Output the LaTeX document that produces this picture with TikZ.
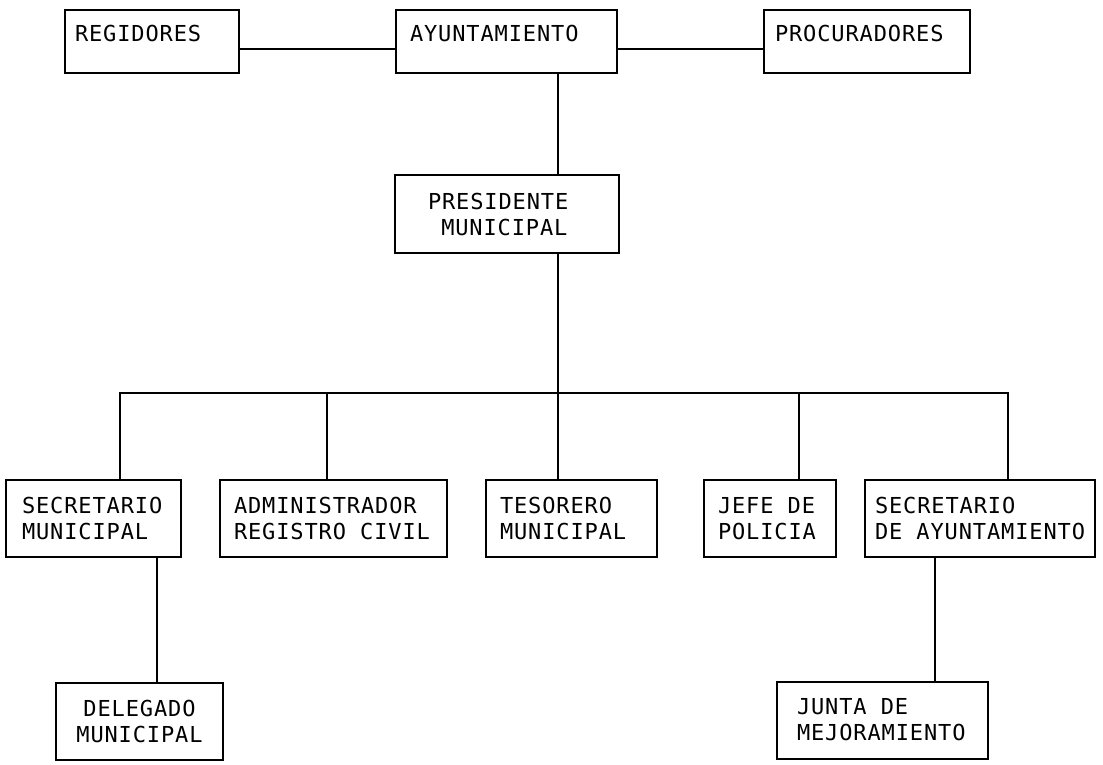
\documentclass[tikz,border=0pt]{standalone}
\usepackage{fontspec}
\usepackage{tikz}
\usetikzlibrary{positioning}
\newfontfamily\orgfont[LetterSpace=4]{DejaVu Sans Mono}
\newcommand\orgsp{\nobreak\hspace{0.64em}}
\tikzset{
  box/.style    ={rectangle, draw=black, line width=2pt, inner ysep=0pt,
                  align=left, font=\orgfont\fontsize{22}{26}\selectfont},
  headbox/.style={box, minimum height=63pt, text height=16pt, text depth=15pt},
  postbox/.style={box, minimum height=77pt},
  link/.style   ={draw=black, line width=2pt}
}
\begin{document}
\begin{tikzpicture}[x=1pt, y=-1pt]
\useasboundingbox (0,0) rectangle (1103,765);
\node[headbox, minimum width=174pt, text width=154pt, inner xsep=10pt] (reg) at (152,41.5) {REGIDORES};
\node[headbox, minimum width=221pt, text width=193pt, inner xsep=14pt] (ayu) at (506.5,41.5) {AYUNTAMIENTO};
\node[headbox, minimum width=206pt, text width=184pt, inner xsep=11pt] (pro) at (867,41.5) {PROCURADORES};
\node[box, minimum width=224pt, minimum height=78pt, text width=158pt, inner xsep=33pt] (pres) at (507,214)
  {PRESIDENTE\\\hphantom{M}MUNICIPAL};
\node[postbox, minimum width=175pt, text width=143pt, inner xsep=16pt] (sm) at (93.5,518.5) {SECRETARIO\\MUNICIPAL};
\node[postbox, minimum width=227pt, text width=199pt, inner xsep=14pt] (arc) at (333.5,518.5) {ADMINISTRADOR\\REGISTRO\orgsp CIVIL};
\node[postbox, minimum width=171pt, text width=143pt, inner xsep=14pt] (tm) at (571.5,518.5) {TESORERO\\MUNICIPAL};
\node[postbox, minimum width=132pt, text width=104pt, inner xsep=14pt] (jp) at (770,518.5) {JEFE\orgsp DE\\POLICIA};
\node[postbox, minimum width=230pt, text width=210pt, inner xsep=10pt] (sa) at (980,518.5) {SECRETARIO\\DE\orgsp AYUNTAMIENTO};
\node[postbox, minimum width=167pt, text width=139pt, inner xsep=14pt, align=center] (dm) at (139.5,721) {DELEGADO\\MUNICIPAL};
\node[postbox, minimum width=211pt, text width=171pt, inner xsep=20pt] (jm) at (882.5,720) {JUNTA\orgsp DE\\MEJORAMIENTO};
\coordinate (axis) at (558,393);
\coordinate (c1) at (120,393);
\coordinate (c2) at (327,393);
\coordinate (c4) at (799,393);
\coordinate (c5) at (1008,393);
\coordinate (l1) at (157,620);
\coordinate (l2) at (935,620);
\draw[link] ([yshift=-7.5pt]reg.east) -- ([yshift=-7.5pt]ayu.west);
\draw[link] ([yshift=-7.5pt]ayu.east) -- ([yshift=-7.5pt]pro.west);
\draw[link] (ayu.south -| axis) -- (pres.north -| axis);
\draw[link] (pres.south -| axis) -- (tm.north -| axis);
\draw[link] (sm.north -| c1) -- (c1) -- (c5) -- (sa.north -| c5);
\draw[link] (c2) -- (arc.north -| c2);
\draw[link] (c4) -- (jp.north -| c4);
\draw[link] (sm.south -| l1) -- (dm.north -| l1);
\draw[link] (sa.south -| l2) -- (jm.north -| l2);
\end{tikzpicture}
\end{document}
